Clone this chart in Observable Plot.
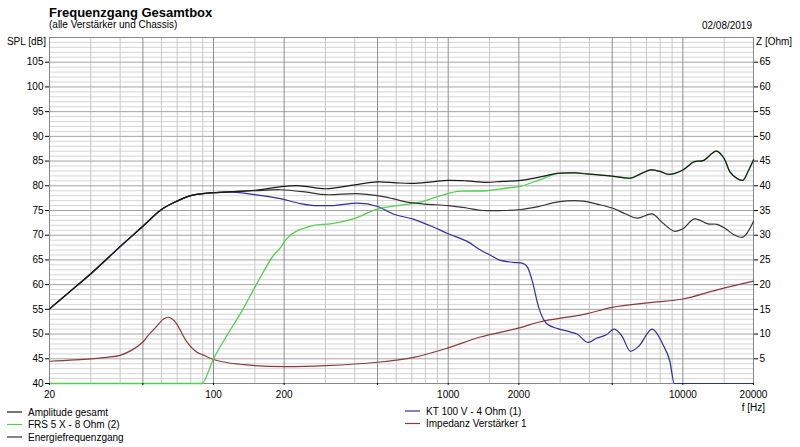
<!DOCTYPE html>
<html><head><meta charset="utf-8">
<script src="https://cdn.jsdelivr.net/npm/d3@7"></script>
<script src="https://cdn.jsdelivr.net/npm/@observablehq/plot@0.6"></script>
<style>
body{margin:0;background:#fff;}
#wrap{position:relative;width:800px;height:447px;overflow:hidden;}
</style></head><body><div id="wrap"></div>
<script>
// ---- data ----
const freqAmp = [20,25,30,40,50,60,70,80,90,100,120,150,200,235,300,400,500,600,700,850,1000,1200,1460,1700,2030,2420,2980,3500,3900,5000,5990,6600,7300,8000,8700,10000,11200,12200,13900,15000,15900,17000,18000,19000,20000];
const splAmp  = [55.1,59.0,62.2,67.7,71.8,75.2,76.9,78.0,78.4,78.6,78.8,79.1,79.9,80.0,79.4,80.2,80.8,80.6,80.5,80.8,81.1,81.0,80.7,80.9,81.1,81.7,82.55,82.6,82.4,81.95,81.55,82.4,83.2,82.9,82.3,83.2,84.9,85.1,87.0,85.5,82.75,81.5,81.1,83.0,85.25];

const freqEnergy = [20,25,30,40,50,60,70,80,90,100,120,150,193,250,300,410,500,580,668,800,1000,1200,1410,1700,2030,2420,2980,3780,4300,5000,5700,6400,7400,8200,9200,10000,11200,12800,14000,15200,16500,18000,19000,20000];
const splEnergy  = [55.1,59.0,62.2,67.7,71.8,75.2,76.9,78.0,78.4,78.6,78.8,79.0,79.2,78.7,78.2,78.4,78.0,77.4,76.7,76.3,76.0,75.5,75.0,75.0,75.2,75.8,76.8,76.9,76.3,75.5,74.3,73.45,74.3,72.5,70.8,71.3,73.3,72.3,72.2,71.3,70.1,69.6,70.8,72.8];

const freqKT = [20,25,30,40,50,60,70,80,90,100,120,150,193,235,268,315,410,500,584,714,850,1000,1220,1372,1520,1670,1900,2080,2180,2280,2430,2630,2930,3330,3540,3950,4300,4700,5100,5500,5980,6500,7400,8200,8800,9200,20000];
const splKT  = [55.1,59.0,62.2,67.7,71.8,75.2,76.9,78.0,78.4,78.6,78.7,78.2,77.4,76.4,76.0,76.0,76.5,75.8,74.3,73.2,71.8,70.3,68.6,67.0,65.9,64.9,64.5,64.3,63.5,60.8,55.4,52.1,51.1,50.4,50.0,48.3,49.2,49.8,51.0,49.6,46.5,47.6,51.0,48.0,44.5,40,40];

const freqFRS = [20,89,100,115,130,153,180,193,205,227,250,268,315,394,500,606,760,930,1130,1460,1750,2030,2420,2980,3500,3900,5000,5990,6600,7300,8000,8700,10000,11200,12200,13900,15000,15900,17000,18000,19000,20000];
const splFRS  = [40,40,45.0,50.0,54.1,60.2,65.9,67.5,69.3,70.9,71.6,72.0,72.3,73.3,75.3,76.0,76.7,78.0,78.9,79.0,79.5,79.9,81.1,82.5,82.6,82.4,81.95,81.55,82.4,83.2,82.9,82.3,83.2,84.9,85.1,87.0,85.5,82.75,81.5,81.1,83.0,85.25];

const freqImp = [20,30,35,40,45,50,52.6,57.6,61,64.5,68,71,77,85,90,100,118,130,150,200,300,500,714,1000,1370,2030,2420,3880,5000,7400,10000,14000,20000];
const ohmImp  = [4.5,5.0,5.3,5.7,6.8,8.4,9.7,11.7,13.0,13.4,12.7,11.4,8.4,6.3,5.8,4.85,4.1,3.9,3.6,3.4,3.6,4.3,5.3,7.2,9.4,11.3,12.4,14.1,15.4,16.4,17.1,18.95,20.7];

const seriesNames  = ["Amplitude gesamt","FRS 5 X - 8 Ohm (2)","Energiefrequenzgang","KT 100 V - 4 Ohm (1)","Impedanz Verstärker 1"];
const seriesColors = ["#1a1a1a","#4fd04f","#333333","#30309a","#8a3a3a"];

const xTickLabels = [20,50,100,200,500,1000,2000,5000,10000,20000];
const xMinorGrid  = [30,40,60,70,80,90,150,300,400,600,700,800,900,1500,3000,4000,6000,7000,8000,9000,15000];
const splTicks = [40,45,50,55,60,65,70,75,80,85,90,95,100,105];
const ohmTicks = [5,10,15,20,25,30,35,40,45,50,55,60,65];
const ohmOffset = 40; // Z axis: 0 Ohm at 40 dB, 1 Ohm per dB

// ---- build rows ----
const rows = (f, v) => f.map((x, i) => ({f: x, v: v[i]}));
const amp = rows(freqAmp, splAmp), energy = rows(freqEnergy, splEnergy),
      kt = rows(freqKT, splKT), frs = rows(freqFRS, splFRS), imp = rows(freqImp, ohmImp);

const minorY = d3.range(41, 110).filter(d => d % 5 !== 0);
const majorY = d3.range(45, 110, 5);

const font = "'Liberation Sans', Arial, sans-serif";
const chart = Plot.plot({
  width: 800, height: 447,
  marginLeft: 49, marginRight: 47, marginTop: 37, marginBottom: 64,
  style: {fontFamily: font, fontSize: "10px", color: "#000", background: "#fff"},
  x: {type: "log", domain: [20, 20000]},
  y: {domain: [40, 110]},
  marks: [
    Plot.ruleY(minorY, {stroke: "#d6d6d6", strokeWidth: 1}),
    Plot.ruleX(xMinorGrid, {stroke: "#c8c8c8", strokeWidth: 1}),
    Plot.ruleY(majorY, {stroke: "#a4a4a4", strokeWidth: 1}),
    Plot.ruleX(xTickLabels, {stroke: "#8e8e8e", strokeWidth: 1}),
    Plot.frame({stroke: "#888"}),
    Plot.line(imp, {x: "f", y: d => d.v + ohmOffset, stroke: seriesColors[4], strokeWidth: 1.2, curve: "catmull-rom"}),
    Plot.line(kt, {x: "f", y: "v", stroke: seriesColors[3], strokeWidth: 1.2, curve: "monotone-x"}),
    Plot.line(frs, {x: "f", y: "v", stroke: seriesColors[1], strokeWidth: 1.3, curve: "monotone-x"}),
    Plot.line(energy, {x: "f", y: "v", stroke: seriesColors[2], strokeWidth: 1.2, curve: "catmull-rom"}),
    Plot.line(amp, {x: "f", y: "v", stroke: seriesColors[0], strokeWidth: 1.2, curve: "catmull-rom"}),
    Plot.axisX({ticks: xTickLabels, tickFormat: d3.format("d"), tickSize: 2, tickPadding: 5, label: null}),
    Plot.axisY({anchor: "left", ticks: splTicks, tickSize: 4, tickPadding: 2, label: null}),
    Plot.axisY({anchor: "right", ticks: ohmTicks.map(z => z + ohmOffset), tickFormat: d => d - ohmOffset, tickSize: 4, tickPadding: 2, label: null})
  ]
});
document.getElementById("wrap").appendChild(chart);

// ---- texts and legend inside the svg ----
const svg = d3.select(chart);
const g = svg.append("g").attr("font-family", font).attr("fill", "#000");
const txt = (x, y, s, opts = {}) => g.append("text").attr("x", x).attr("y", y)
  .attr("font-size", opts.size || 10).attr("font-weight", opts.weight || "normal")
  .attr("text-anchor", opts.anchor || "start").text(s);
txt(49, 17, "Frequenzgang Gesamtbox", {size: 13, weight: "bold"});
txt(49, 28, "(alle Verstärker und Chassis)");
txt(752, 29, "02/08/2019", {anchor: "end"});
txt(46, 45, "SPL [dB]", {anchor: "end"});
txt(756, 45, "Z [Ohm]");
txt(765, 411, "f [Hz]", {anchor: "end"});

const legendPos = [[7,412],[7,424.5],[7,437],[405,411],[405,423.5]];
seriesNames.forEach((name, i) => {
  const [x, y] = legendPos[i];
  g.append("line").attr("x1", x).attr("x2", x + 15).attr("y1", y).attr("y2", y)
    .attr("stroke", seriesColors[i]).attr("stroke-width", 1.2);
  txt(x + 21, y + 3.5, name);
});
</script></body></html>
